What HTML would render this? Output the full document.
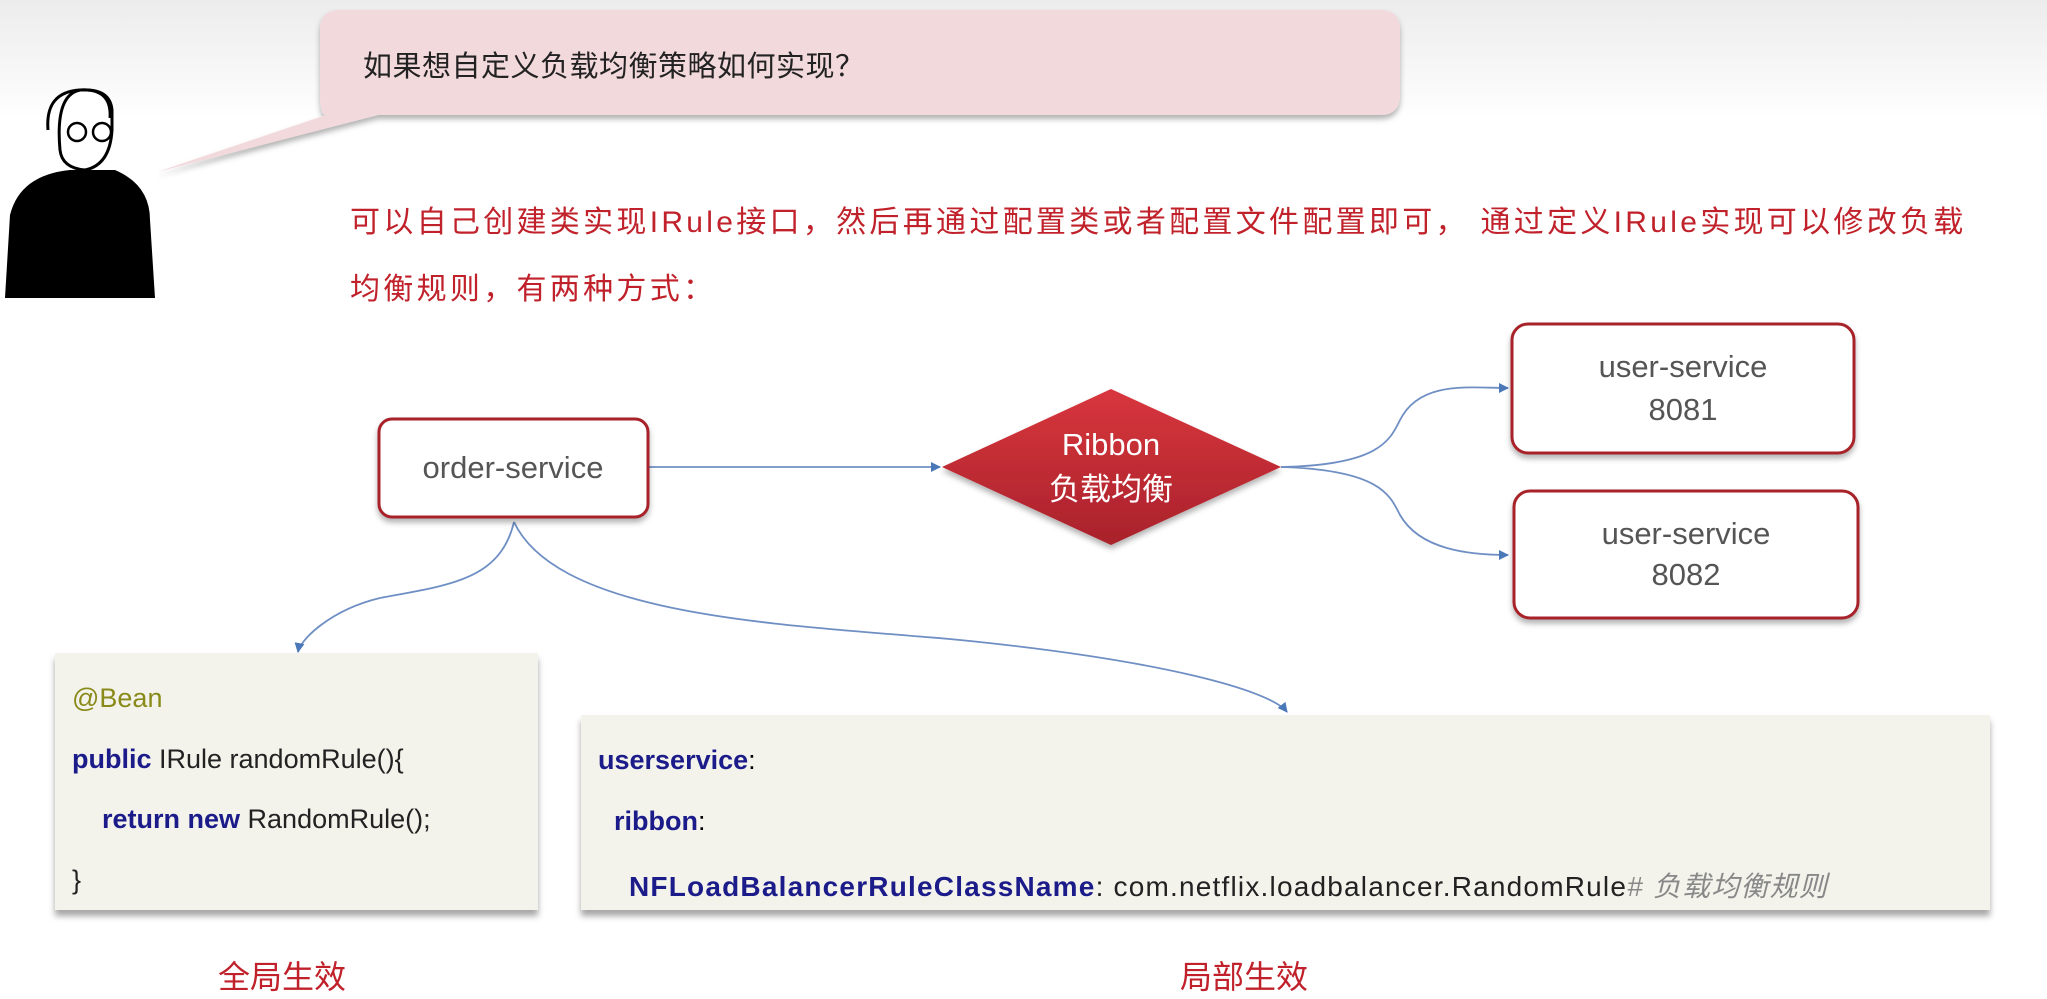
<!DOCTYPE html>
<html><head><meta charset="utf-8"><style>
html,body{margin:0;padding:0;}
body{width:2047px;height:999px;overflow:hidden;background:#fff;position:relative;font-family:"Liberation Sans","Noto Sans CJK SC",sans-serif;}
.bg{position:absolute;left:0;top:0;width:2047px;height:120px;background:linear-gradient(#ececec,#fff);}
.t{position:absolute;white-space:nowrap;}
.code{position:absolute;background:#f3f3ec;box-shadow:0 6px 6px rgba(0,0,0,0.35);}
.kw{color:#1b1b8a;font-weight:bold;}
</style></head><body>
<div class="bg"></div>
<svg width="2047" height="999" style="position:absolute;left:0;top:0">
<defs>
<linearGradient id="dg" x1="0" y1="0" x2="0" y2="1"><stop offset="0" stop-color="#d8363d"/><stop offset="1" stop-color="#a9222b"/></linearGradient>
<marker id="ar" markerWidth="10" markerHeight="10" refX="9" refY="5" orient="auto" markerUnits="userSpaceOnUse"><path d="M0,0 L10,5 L0,10 z" fill="#4a78b8"/></marker>
<filter id="sh"><feDropShadow dx="0" dy="4" stdDeviation="3" flood-color="#000" flood-opacity="0.3"/></filter>
</defs>
<g filter="url(#sh)">
<path d="M340,10 H1380 Q1400,10 1400,30 V95 Q1400,115 1380,115 H378 L157,172 L326,115 Q320,115 320,95 V30 Q320,10 340,10 Z" fill="#f2d9dc"/>
</g>
<path d="M5,298 L10,215 Q20,175 70,170 L115,170 Q150,185 150,220 L155,298 Z" fill="#000"/>
<path d="M60,150 Q55,95 80,90 Q110,88 112,110 L112,130 Q110,165 85,170 Q62,168 60,150 Z" fill="#fff" stroke="#000" stroke-width="3"/>
<path d="M48,130 Q45,92 80,90 Q112,88 110,118" fill="none" stroke="#000" stroke-width="3"/>
<circle cx="77" cy="132" r="9" fill="none" stroke="#000" stroke-width="2.5"/><circle cx="102" cy="132" r="9" fill="none" stroke="#000" stroke-width="2.5"/>
<g fill="none" stroke="#6f8fc4" stroke-width="1.8">
<path d="M648,467 L940,467" marker-end="url(#ar)"/>
<path d="M1281,467 C1380,465 1390,440 1400,420 C1420,380 1470,388 1508,388" marker-end="url(#ar)"/>
<path d="M1281,467 C1380,470 1390,495 1400,515 C1420,550 1470,555 1508,555" marker-end="url(#ar)"/>
<path d="M514,522 C500,580 450,585 380,598 C330,610 300,640 298,652" marker-end="url(#ar)"/>
<path d="M514,522 C560,620 800,625 960,640 C1160,660 1270,690 1287,712" marker-end="url(#ar)"/>
</g>
<g filter="url(#sh)" fill="#fff" stroke="#a8232b" stroke-width="3">
<rect x="379" y="419" width="269" height="98" rx="13"/>
<rect x="1512" y="324" width="342" height="129" rx="16"/>
<rect x="1514" y="491" width="344" height="127" rx="16"/>
<polygon points="1111,389 1281,467 1111,545 942,467" fill="url(#dg)" stroke="none"/>
</g>
<g font-family="Liberation Sans,Noto Sans CJK SC,sans-serif" text-anchor="middle" font-size="31">
<text x="513" y="478" fill="#555">order-service</text>
<text x="1683" y="377" fill="#555">user-service</text><text x="1683" y="420" fill="#555">8081</text>
<text x="1686" y="544" fill="#555">user-service</text><text x="1686" y="585" fill="#555">8082</text>
<text x="1111" y="455" fill="#fff">Ribbon</text><text x="1111" y="500" fill="#fff">负载均衡</text>
</g>
</svg>
<div class="t" style="left:363px;top:43px;font-size:29px;color:#222;letter-spacing:0.5px;">如果想自定义负载均衡策略如何实现？</div>
<div class="t" style="left:350px;top:197px;font-size:30px;color:#c0212a;letter-spacing:3.3px;">可以自己创建类实现IRule接口，然后再通过配置类或者配置文件配置即可， 通过定义IRule实现可以修改负载</div>
<div class="t" style="left:350px;top:264px;font-size:30px;color:#c0212a;letter-spacing:3.3px;">均衡规则，有两种方式：</div>
<div class="code" style="left:55px;top:653px;width:483px;height:257px;"></div>
<div class="code" style="left:581px;top:715px;width:1409px;height:195px;"></div>
<div class="t" style="left:72px;top:683px;font-size:27px;color:#8a8a1a;">@Bean</div>
<div class="t" style="left:72px;top:744px;font-size:27px;color:#222;"><span class="kw">public</span> IRule randomRule(){</div>
<div class="t" style="left:102px;top:804px;font-size:27px;color:#222;"><span class="kw">return new</span> RandomRule();</div>
<div class="t" style="left:72px;top:865px;font-size:27px;color:#222;">}</div>
<div class="t" style="left:598px;top:745px;font-size:27px;"><span class="kw">userservice</span>:</div>
<div class="t" style="left:614px;top:806px;font-size:27px;"><span class="kw">ribbon</span>:</div>
<div class="t" style="left:629px;top:865px;font-size:28px;color:#222;letter-spacing:1.2px;"><span class="kw">NFLoadBalancerRuleClassName</span>: com.netflix.loadbalancer.RandomRule<span style="color:#888;font-style:italic;"># 负载均衡规则</span></div>
<div class="t" style="left:218px;top:952px;font-size:32px;color:#c0212a;">全局生效</div>
<div class="t" style="left:1180px;top:952px;font-size:32px;color:#c0212a;">局部生效</div>
</body></html>
